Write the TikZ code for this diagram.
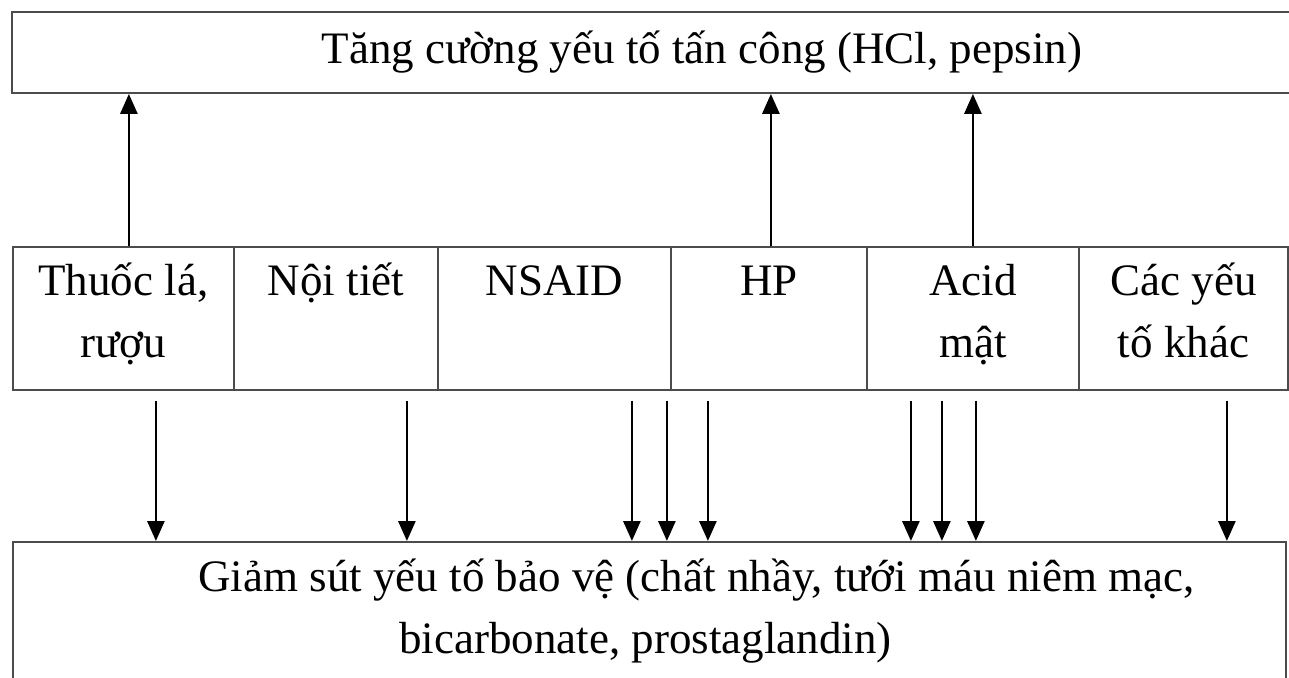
\documentclass[tikz,border=0pt]{standalone}
\usepackage{fontspec}
\setmainfont{Liberation Serif}
\usetikzlibrary{arrows.meta}
\newcommand\topstrut{\rule{0pt}{40pt}}
\newcommand\botstrut{\rule[-23pt]{0pt}{23pt}}
\tikzset{
  box/.style={draw=black!70, line width=1.8pt, inner sep=0pt},
  cell/.style={box, minimum height=143pt, align=center, anchor=north west},
  arr/.style={line width=2.8pt, -{Triangle[length=20pt,width=17pt]}},
}
\begin{document}
\begin{tikzpicture}[x=1pt,y=-1pt,font=\fontsize{45}{62}\selectfont]
\useasboundingbox (0,0) rectangle (1289,677);
\clip (0,0) rectangle (1289,677);
% upper box
\node[box, minimum width=1380pt, minimum height=81pt] (attack) at (702,52.5)
  {Tăng cường yếu tố tấn công (HCl, pepsin)};
% row of causes
\node[cell, minimum width=221pt] (tobacco) at (12,246) {\topstrut Thuốc lá,\\rượu\botstrut};
\node[cell, minimum width=204pt] (endocrine) at (233,246) {\topstrut Nội tiết\\\botstrut};
\node[cell, minimum width=233pt] (nsaid) at (437,246) {\topstrut NSAID\\\botstrut};
\node[cell, minimum width=196pt] (hp) at (670,246) {\topstrut HP\\\botstrut};
\node[cell, minimum width=212pt] (bile) at (866,246) {\topstrut Acid\\mật\botstrut};
\node[cell, minimum width=209pt] (other) at (1078,246) {\topstrut Các yếu\\tố khác\botstrut};
% lower box
\node[box, minimum width=1273pt, minimum height=200pt, anchor=north west] (defense) at (12,541) {};
\node[align=center, anchor=north] (defensetext) at (648.5,555)
  {\hspace*{96pt}Giảm sút yếu tố bảo vệ (chất nhầy, tưới máu niêm mạc,\\
   bicarbonate, prostaglandin)\hspace*{6pt}};
% arrows up
\foreach \c/\dx in {tobacco/5.5, hp/2, bile/0}
  \draw[arr] ([xshift=\dx pt]\c.north) -- ([xshift=\dx pt]\c.north |- attack.south);
% arrows down
\foreach \c/\dx in {tobacco/32.5, endocrine/71, nsaid/77.5, nsaid/112.5, hp/-61,
                    bile/-62, bile/-31, bile/3, other/43.5}
  \draw[arr] ([xshift=\dx pt, yshift=-10pt]\c.south) -- ([xshift=\dx pt]\c.south |- defense.north);
\end{tikzpicture}
\end{document}
